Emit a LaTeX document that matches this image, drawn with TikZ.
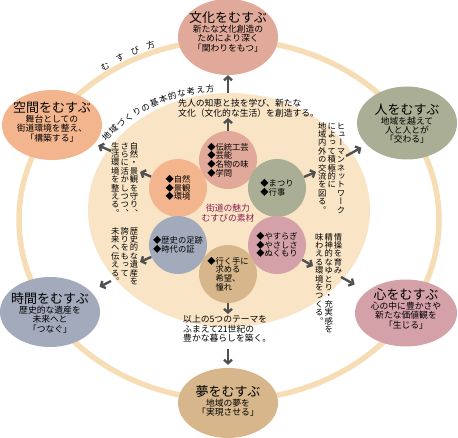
\documentclass[tikz,border=0pt]{standalone}
\usepackage{fontspec}
\setmainfont{Noto Sans CJK JP}
\newfontfamily\tatefont[RawFeature=+vert]{Noto Sans CJK JP}
\usetikzlibrary{shapes.geometric, decorations.text, arrows.meta, calc}

\definecolor{culcol}{RGB}{225,169,154}
\definecolor{spacol}{RGB}{243,181,142}
\definecolor{humcol}{RGB}{169,174,149}
\definecolor{timcol}{RGB}{162,170,187}
\definecolor{mincol}{RGB}{211,161,167}
\definecolor{drecol}{RGB}{214,182,138}
\definecolor{disccol}{RGB}{249,228,197}
\definecolor{ringcol}{RGB}{247,221,181}
\definecolor{arrcol}{RGB}{80,80,80}
\definecolor{corecol}{RGB}{140,30,80}

\newcommand{\titlefont}{\fontsize{13}{15}\selectfont}
\newcommand{\subfont}{\fontsize{8.8}{9.4}\selectfont}
\newcommand{\listfont}{\fontsize{8.3}{8.6}\selectfont}
\newcommand{\bodyfont}{\fontsize{8.8}{9.7}\selectfont}

% one vertical column of text
\makeatletter
\newcommand{\tcol}[1]{\vtop{\tatefont\fontsize{8.3}{8.3}\selectfont
    \baselineskip=8.4pt\lineskiplimit=-\maxdimen
    \@tfor\tch:=#1\do{\hbox to 9.4pt{\hss\tch\hss}}}}
\makeatother

\begin{document}
\begin{tikzpicture}[x=1pt, y=-1pt,
    theme/.style={ellipse, inner sep=0pt, minimum width=100pt,
        minimum height=70pt},
    seed/.style={circle, inner sep=0pt, minimum size=58pt},
    ttl/.style={align=center, font=\subfont, inner sep=0pt},
    lst/.style={align=left, font=\listfont, inner sep=0pt},
    body/.style={align=left, font=\bodyfont, inner sep=0pt,
        anchor=north west},
    tate/.style={inner sep=0pt, anchor=north east},
    arr/.style={draw=arrcol, line width=2.4pt,
        -{Straight Barb[length=3.5pt, width=8pt]}},
    ]

    \useasboundingbox (0,0) rectangle (458,438);

    % ring and disc
    \draw[ringcol, line width=5.5pt] (229,220) ellipse [x radius=210,
    y radius=180];
    \fill[disccol] (229,210) ellipse [x radius=141, y radius=117];

    % curved titles
    \path[decorate, decoration={text along path, text align=fit to path,
        text={|\fontsize{8.5}{9}\selectfont|むすび方}}]
    ($(229,220)+(234:214 and 184)$) arc[start angle=234, end angle=250,
    x radius=214, y radius=184];
    \path[decorate, decoration={text along path, text align=fit to path,
        text={|\fontsize{8.5}{9}\selectfont|地域づくりの基本的な考え方}}]
    ($(228,217)+(217:153 and 126)$) arc[start angle=217, end angle=265,
    x radius=153, y radius=126];

    % outer themes
    \node[theme, fill=culcol, minimum height=76pt] (ocul) at (228,37) {};
    \node[ttl] (lcul) at (228,32) {{\titlefont 文化をむすぶ}\\新たな文化創造の\\ためにより深く\\「関わりをもつ」};

    \node[theme, fill=spacol] (ospa) at (52,125) {};
    \node[ttl] (lspa) at (52,122) {{\titlefont 空間をむすぶ}\\舞台としての\\街道環境を整え、\\「構築する」};

    \node[theme, fill=humcol, minimum height=73pt] (ohum) at (407,123) {};
    \node[ttl] (lhum) at (407,124) {{\titlefont 人をむすぶ}\\地域を越えて\\人と人とが\\「交わる」};

    \node[theme, fill=timcol] (otim) at (50,312) {};
    \node[ttl] (ltim) at (50,313) {{\titlefont 時間をむすぶ}\\歴史的な遺産を\\未来へと\\「つなぐ」};

    \node[theme, fill=mincol, minimum width=102pt, minimum height=67pt]
    (omin) at (406,313) {};
    \node[ttl] (lmin) at (406,309) {{\titlefont 心をむすぶ}\\心の中に豊かさや\\新たな価値観を\\「生じる」};

    \node[theme, fill=drecol] (odre) at (228,403) {};
    \node[ttl] (ldre) at (228,401) {{\titlefont 夢をむすぶ}\\地域の夢を\\「実現させる」};

    % inner seeds
    \node[seed, fill=culcol] (icul) at (228,160) {};
    \node[lst] (lstcul) at (icul) {◆伝統工芸\\◆芸能\\◆名物の味\\◆学問};
    \node[seed, fill=spacol] (ispa) at (178,188) {};
    \node[lst] (lstspa) at (ispa) {◆自然\\◆景観\\◆環境};
    \node[seed, fill=humcol] (ihum) at (277,188) {};
    \node[lst] (lsthum) at (ihum) {◆まつり\\◆行事};
    \node[seed, fill=timcol] (itim) at (178,245) {};
    \node[lst] (lsttim) at (itim) {◆歴史の足跡\\◆時代の証};
    \node[seed, fill=mincol] (imin) at (277,245) {};
    \node[lst] (lstmin) at (imin) {◆やすらぎ\\◆やさしさ\\◆ぬくもり};
    \node[seed, fill=drecol] (idre) at (228,274) {};
    \node[lst] (lstdre) at (idre) {◆行く手に\\\hphantom{◆}求める\\\hphantom{◆}希望、\\\hphantom{◆}憧れ};

    \node[align=center, font=\bodyfont, text=corecol, inner sep=0pt]
    (core) at (228,213) {街道の魅力\\むすびの素材};

    % texts between seeds and themes
    \node[body] (tcul) at (178,99) {先人の知恵と技を学び、新たな\\文化（文化的な生活）を創造する。};
    \node[body] (tdre) at (183,315) {以上の5つのテーマを\\ふまえて21世紀の\\豊かな暮らしを築く。};
    \node[tate] (tspa) at (139,142) {\tcol{生活環境を整える。}\tcol{さらに活かしつつ、}\tcol{自然・景観を守り、}};
    \node[tate] (ttim) at (139,227) {\tcol{未来へ伝える。}\tcol{誇りをもって}\tcol{歴史的な遺産を}};
    \node[tate] (thum) at (346,122) {\tcol{地域内外の交流を図る。}\tcol{によって積極的に}\tcol{ヒューマンネットワーク}};
    \node[tate] (tmin) at (343,233) {\tcol{味わえる環境をつくる。}\tcol{精神的なゆとり・充実感を}\tcol{情操を育み}};

    % arrows
    \coordinate (cul1) at (228,118);
    \coordinate (cul2) at (228,93);
    \coordinate (spa1) at (140,172);
    \coordinate (spa2) at (111,151);
    \coordinate (hum1) at (316,172);
    \coordinate (hum2) at (346,156);
    \coordinate (tim1) at (140,262);
    \coordinate (tim2) at (111,281);
    \coordinate (min1) at (313,266);
    \coordinate (min2) at (341,277);
    \coordinate (dre1) at (228,314);
    \coordinate (dre2) at (228,349);

    \draw[arr] (icul) -- (cul1);
    \draw[arr] (cul2) -- (ocul);
    \draw[arr] (ispa) -- (spa1);
    \draw[arr, shorten >=4pt] (spa2) -- (ospa);
    \draw[arr] (ihum) -- (hum1);
    \draw[arr, shorten >=6pt] (hum2) -- (ohum);
    \draw[arr] (itim) -- (tim1);
    \draw[arr, shorten >=10pt] (tim2) -- (otim);
    \draw[arr] (imin) -- (min1);
    \draw[arr, shorten >=14pt] (min2) -- (omin);
    \draw[arr] (idre) -- (dre1);
    \draw[arr, shorten >=3pt] (dre2) -- (odre);
\end{tikzpicture}
\end{document}
